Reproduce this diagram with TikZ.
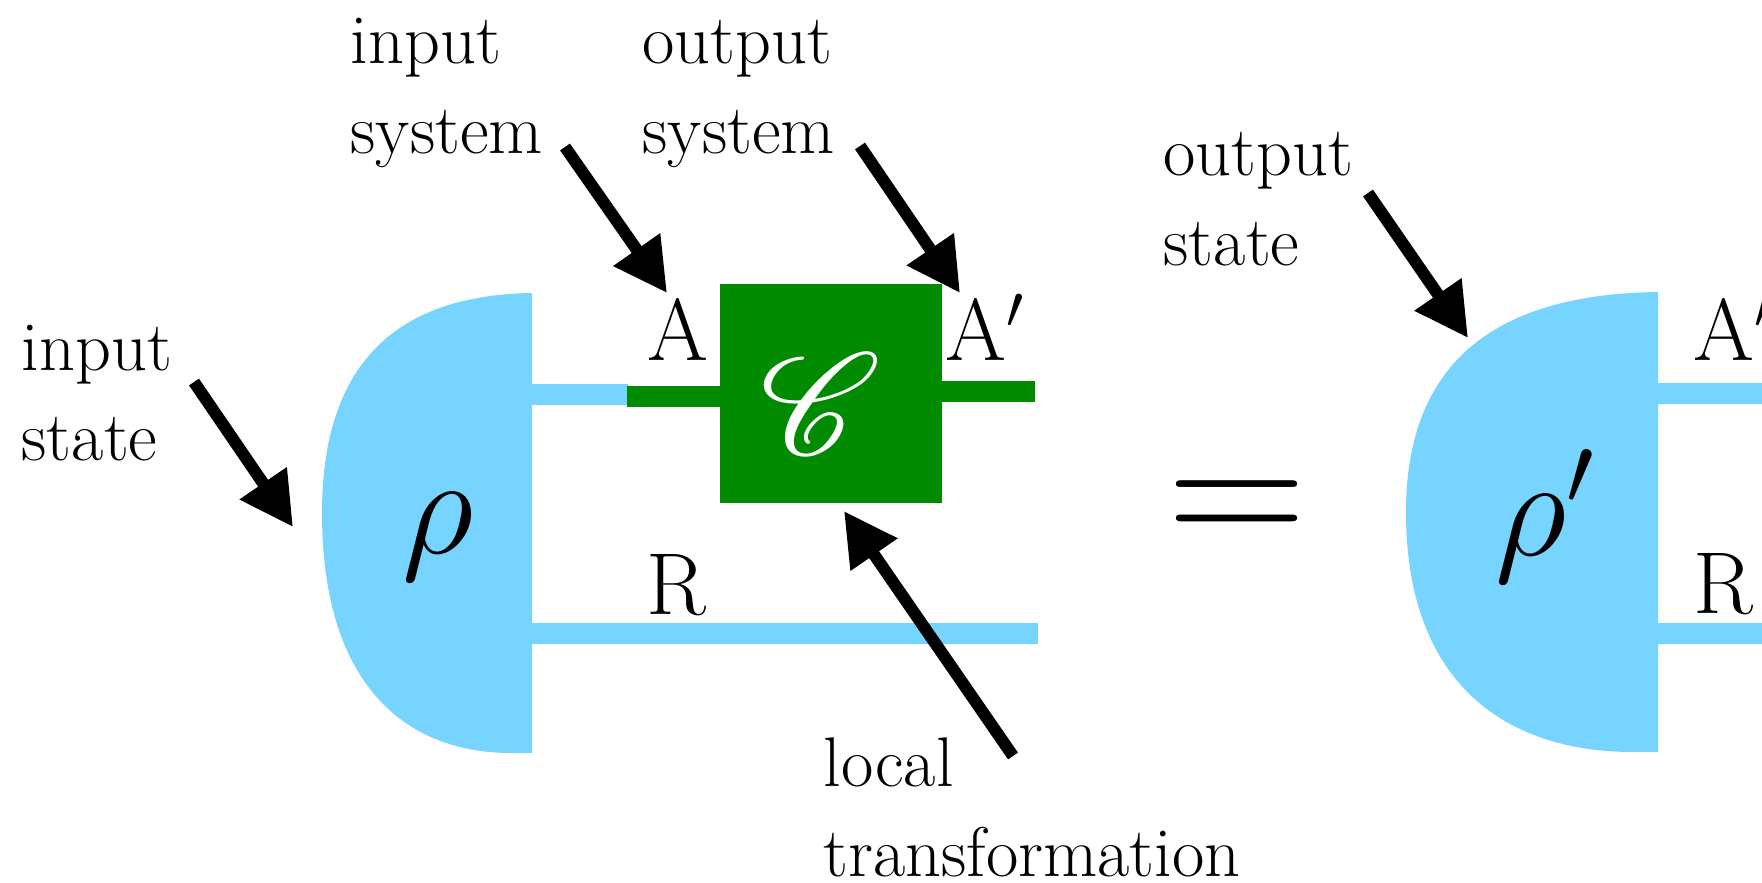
\RequirePackage{fix-cm}
\documentclass[tikz,border=0pt]{standalone}
\usepackage{mathrsfs}
\DeclareFontFamily{U}{rsfs}{\skewchar\font127 }
\DeclareFontShape{U}{rsfs}{m}{n}{<-> rsfs10}{}
\usetikzlibrary{arrows.meta}
\definecolor{stateblue}{RGB}{118,212,255}
\definecolor{gategreen}{RGB}{0,139,0}
\tikzset{>={Triangle[length=5.3mm,width=5.4mm]}}
\tikzset{
  blob/.pic={
    \tikzset{/blob/.cd,#1}
    \fill[stateblue] (0,-230)
      .. controls (-0.63*\blobw,-228) and (-\blobw,-163) .. (-\blobw,-10)
      .. controls (-\blobw,167) and (-0.58*\blobw,230) .. (-0.1*\blobw,230)
      -- (0,230) -- cycle;
  },
  /blob/.search also={/tikz},
  /blob/.cd,
  width/.store in=\blobw, width=210,
}

\begin{document}
\begin{tikzpicture}[x=0.1mm,y=-0.1mm,
    note/.style={font=\fontsize{20}{25.6}\selectfont,align=left,
                 inner sep=0,anchor=base west},
    syslabel/.style={font=\fontsize{25}{30}\selectfont,inner sep=0,anchor=base west},
    bigmath/.style={font=\fontsize{40}{48}\selectfont,inner sep=0},
    wire/.style={stateblue,line width=2.1mm},
    gwire/.style={gategreen,line width=2.1mm},
    pointer/.style={->,line width=1.2mm}]
  \path[use as bounding box] (0,0) rectangle (1762,882);
  \clip (0,0) rectangle (1762,882);

  % left side: input state and channel
  \draw[wire] (530,394.5) -- (628,394.5);
  \draw[gwire] (627,396.5) -- (721,396.5);
  \draw[gwire] (941,391.5) -- (1035,391.5);
  \draw[wire] (530,633) -- (1038,633);
  \pic at (532,523) {blob={width=210}};
  \node[bigmath,anchor=base] (rho) at (438,553) {$\rho$};
  \node[fill=gategreen,inner sep=0,minimum width=2.22cm,minimum height=2.19cm]
    (gate) at (831,393.5) {};
  \node[font=\fontsize{41}{48}\selectfont,inner sep=0,text=white]
    (chan) at (821,404) {$\mathscr{C}$};
  \node[syslabel] (labA) at (647,360) {A};
  \node[syslabel] (labAp) at (945,360) {A$'$};
  \node[syslabel] (labR) at (646,614) {R};

  \node[font=\fontsize{55}{60}\selectfont,inner sep=0] (eq) at (1237,515) {$=$};

  % right side: output state
  \draw[wire] (1656,393.5) -- (1762,393.5);
  \draw[wire] (1656,633.5) -- (1762,633.5);
  \pic at (1658,522) {blob={width=252}};
  \node[bigmath,anchor=base] (rhop) at (1545,555) {$\rho'$};
  \node[syslabel] (labAq) at (1693,360) {A$'$};
  \node[syslabel] (labRq) at (1693,613) {R};

  % annotations (anchored on the last line)
  \node[note] (instate) at (21,460) {input\\state};
  \node[note] (insys) at (350,153) {input\\system};
  \node[note] (outsys) at (642,153) {output\\system};
  \node[note] (outstate) at (1163,265) {output\\state};
  \node[note] (localtr) at (823,876) {local\\transformation};

  \coordinate (p1) at (194,382);  \coordinate (q1) at (293,527);
  \coordinate (p2) at (565,147);  \coordinate (q2) at (667,293);
  \coordinate (p3) at (860,146);  \coordinate (q3) at (960,293);
  \coordinate (p4) at (1368,193); \coordinate (q4) at (1468,338);
  \coordinate (p5) at (1013,756); \coordinate (q5) at (844,511);
  \draw[pointer] (p1) -- (q1);
  \draw[pointer] (p2) -- (q2);
  \draw[pointer] (p3) -- (q3);
  \draw[pointer] (p4) -- (q4);
  \draw[pointer] (p5) -- (q5);
\end{tikzpicture}
\end{document}
